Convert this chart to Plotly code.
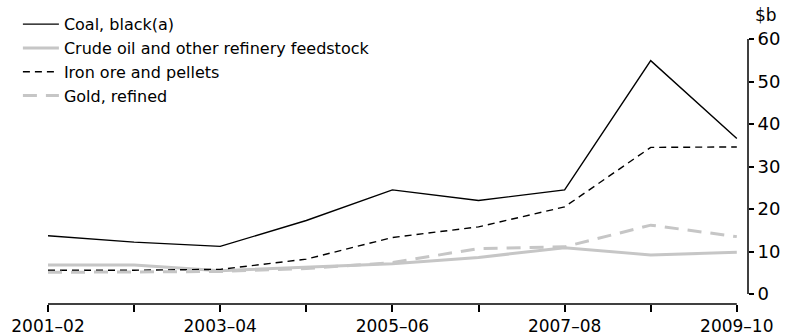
import plotly.graph_objects as go

# ---- data ($b, financial years) ----
years = ["2001–02", "2002–03", "2003–04", "2004–05", "2005–06",
         "2006–07", "2007–08", "2008–09", "2009–10"]
tick_labels = ["2001–02", "", "2003–04", "", "2005–06", "", "2007–08", "", "2009–10"]

coal = [13.7, 12.2, 11.2, 17.3, 24.5, 22.0, 24.5, 54.9, 36.6]
crude_oil = [6.8, 6.8, 5.5, 6.3, 7.1, 8.6, 10.9, 9.2, 9.8]
iron_ore = [5.6, 5.6, 5.8, 8.2, 13.3, 15.8, 20.5, 34.5, 34.6]
gold = [5.1, 5.2, 5.3, 6.0, 7.4, 10.7, 11.1, 16.2, 13.5]

x = list(range(len(years)))
GREY = "#c6c6c6"
FONT = "DejaVu Sans"

fig = go.Figure()

series = [
    ("Coal, black(a)", coal, dict(color="black", width=1.4)),
    ("Crude oil and other refinery feedstock", crude_oil, dict(color=GREY, width=3)),
    ("Iron ore and pellets", iron_ore, dict(color="black", width=1.4, dash="7px,5px")),
    ("Gold, refined", gold, dict(color=GREY, width=3, dash="14px,9px")),
]

for name, vals, line in series:
    fig.add_trace(
        go.Scatter(
            x=x,
            y=vals,
            name=name,
            mode="lines",
            line=line,
            legendgroup=name,
            customdata=years,
            hovertemplate="%{customdata}: %{y}<extra>" + name + "</extra>",
        )
    )

# axis lines drawn only over the data span, like the original
fig.add_shape(type="line", xref="x", yref="paper", x0=0, x1=8, y0=0, y1=0,
              line=dict(color="black", width=1.5))
fig.add_shape(type="line", xref="paper", yref="y", x0=1, x1=1, y0=0, y1=60,
              line=dict(color="black", width=1.5))

fig.add_annotation(
    text="$b", xref="paper", yref="paper", x=1, y=1,
    xanchor="left", yanchor="bottom", xshift=5, yshift=12,
    showarrow=False, font=dict(family=FONT, size=17, color="black"),
)

fig.update_xaxes(
    range=[0, 8.13],
    tickvals=x,
    ticktext=tick_labels,
    ticks="outside",
    ticklen=7,
    tickwidth=1.5,
    tickcolor="black",
    showline=False,
    showgrid=False,
    zeroline=False,
    tickfont=dict(family=FONT, size=17, color="black"),
)

fig.update_yaxes(
    side="right",
    range=[-2.35, 60],
    tickvals=[0, 10, 20, 30, 40, 50, 60],
    ticks="outside",
    ticklen=5,
    tickwidth=1.5,
    tickcolor="black",
    showline=False,
    showgrid=False,
    zeroline=False,
    tickfont=dict(family=FONT, size=18, color="black"),
)

fig.update_layout(
    width=786,
    height=336,
    margin=dict(l=48, r=38, t=39, b=32, autoexpand=False),
    plot_bgcolor="white",
    paper_bgcolor="white",
    font=dict(family=FONT, size=16, color="black"),
    legend=dict(
        x=-0.043,
        y=1.12,
        xanchor="left",
        yanchor="top",
        bgcolor="rgba(0,0,0,0)",
        font=dict(family=FONT, size=16, color="black"),
        tracegroupgap=0,
        itemwidth=36,
    ),
)

# drop the page's default body margin so the figure sits at 0,0
fig.write_html(
    "out.html",
    config={"displayModeBar": False},
    post_script="document.body.style.margin='0';",
)
